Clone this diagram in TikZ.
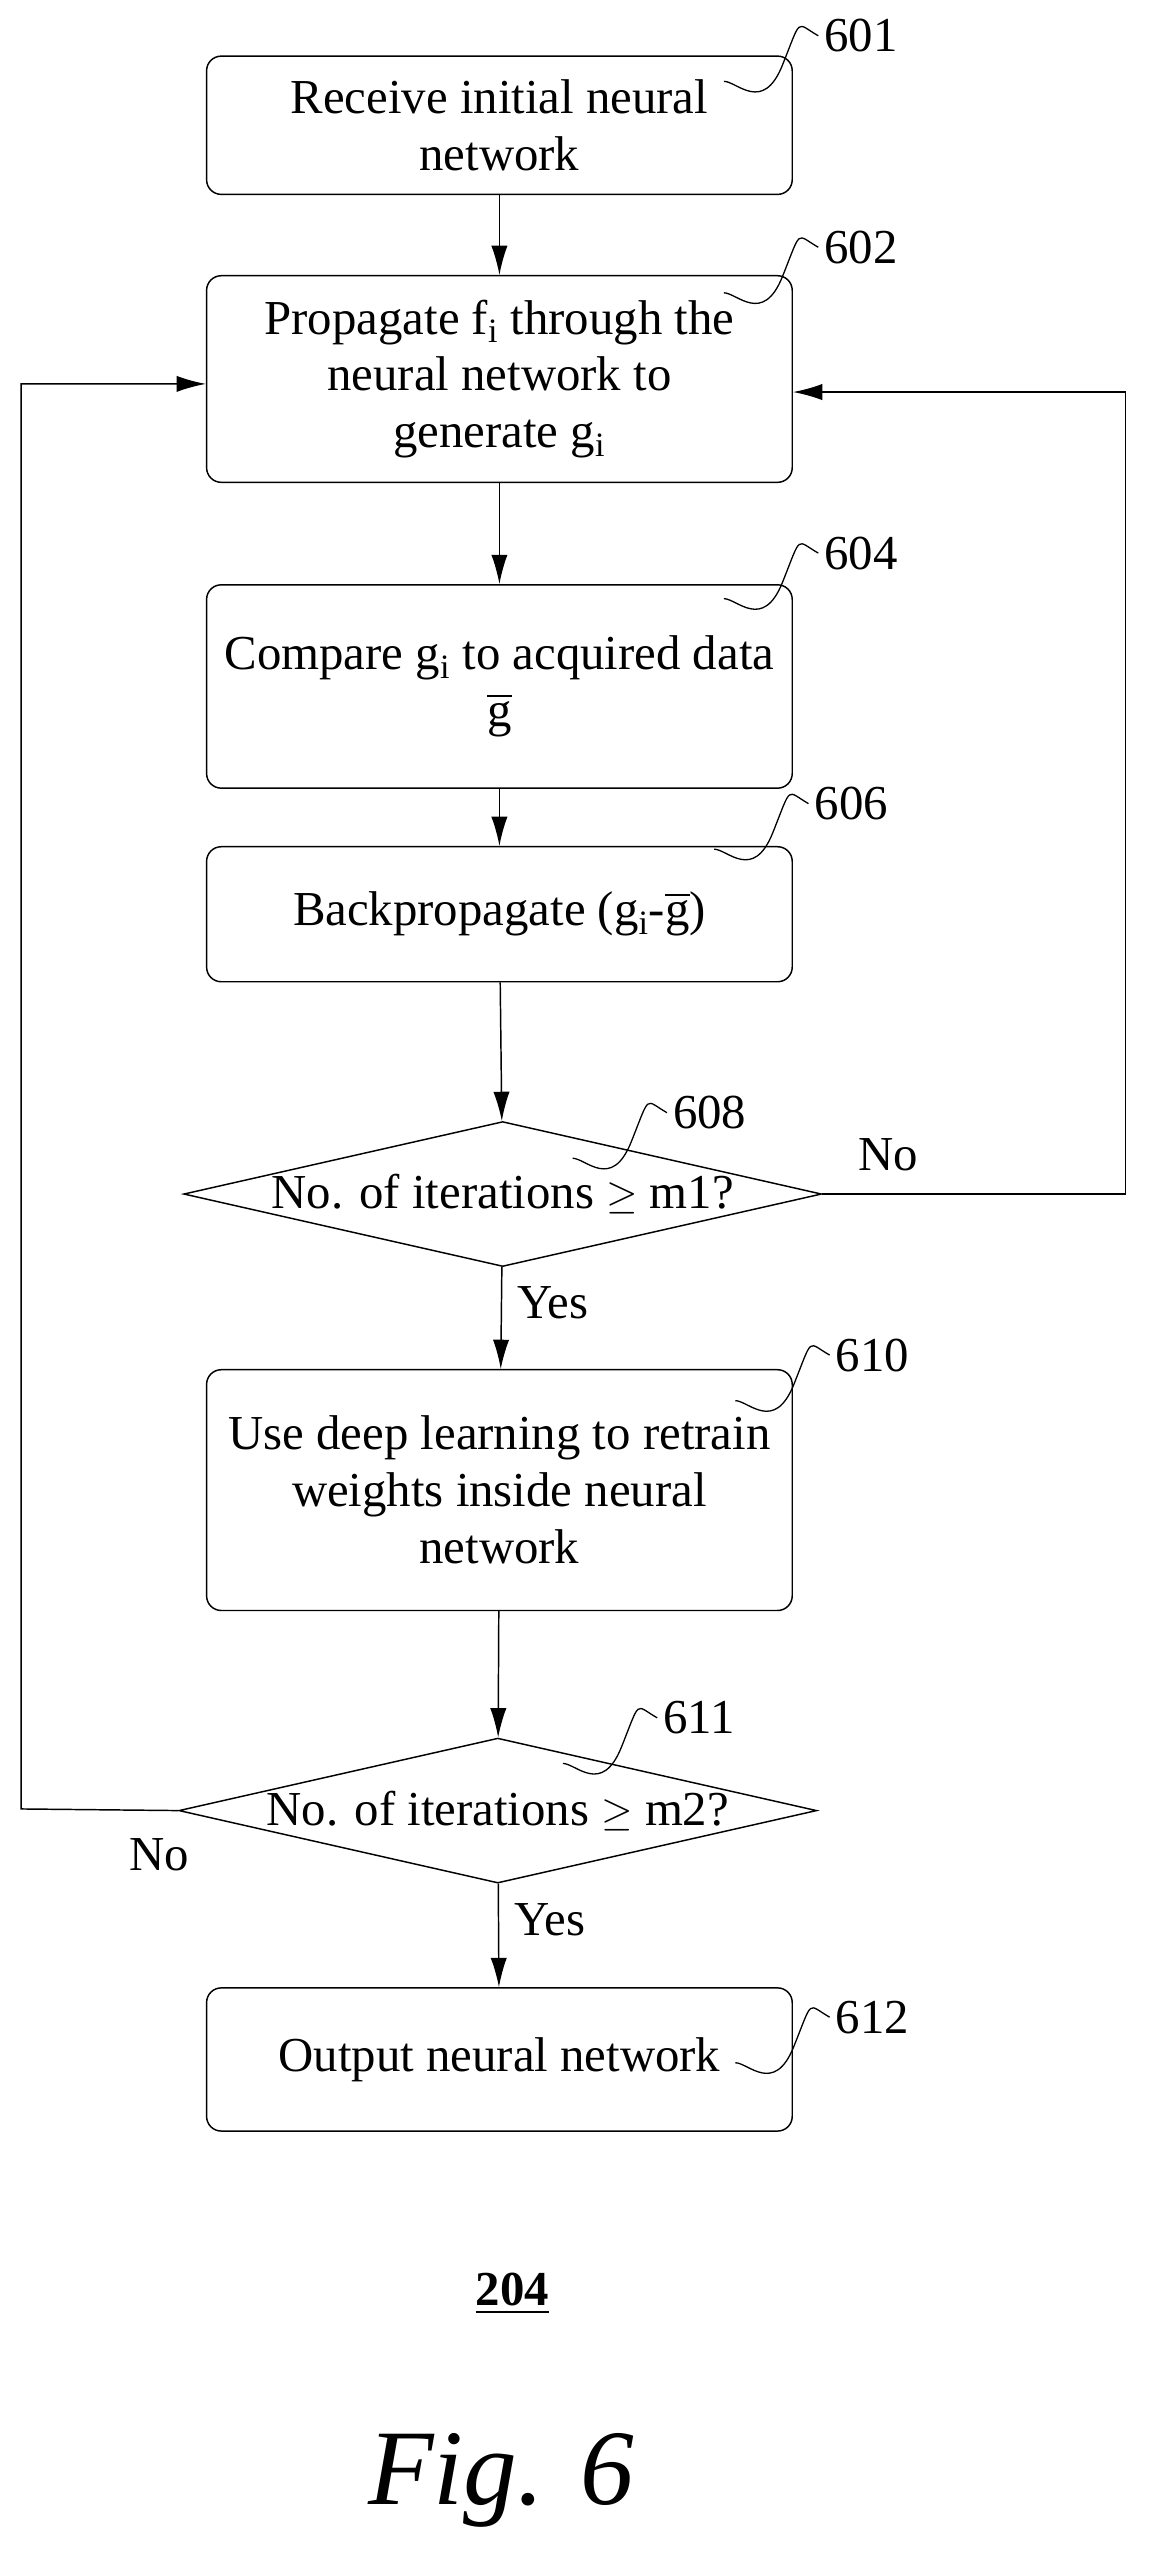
\documentclass[tikz,border=0pt]{standalone}
\usepackage{fontspec}
\usepackage{amsmath}
\setmainfont{Liberation Serif}
\usetikzlibrary{arrows.meta,shapes.geometric}

\tikzset{
	stage/.style={rectangle,draw,rounded corners=9pt,minimum width=360pt,align=center,font=\fontsize{30}{35}\selectfont},
	test/.style={diamond,draw,aspect=4.4,inner sep=0pt,font=\fontsize{30}{35}\selectfont},
	flow/.style={-{Latex[length=18pt,width=10pt]}},
	tag/.style={font=\fontsize{30}{35}\selectfont},
	squig/.style={line width=0.8pt}
}

\begin{document}
\begin{tikzpicture}[x=1pt,y=-1pt,line width=0.9pt]
		\useasboundingbox (0,0) rectangle (710,1578);
		\path (307,77) node(recv) [stage,minimum height=85pt] {Receive initial neural\\network};
		\path (307,233) node(prop) [stage,minimum height=127pt] {Propagate f\textsubscript{i} through the\\neural network to\\generate g\textsubscript{i}};
		\path (307,422) node(comp) [stage,minimum height=125pt] {Compare g\textsubscript{i} to acquired data\\$\overline{\text{g}}$};
		\path (307,562) node(back) [stage,minimum height=83pt] {Backpropagate (g\textsubscript{i}-$\overline{\text{g}}$)};
		\path (309,734) node(iter1) [test,minimum width=372pt,minimum height=84pt] {No. of iterations $\geq$ m1?};
		\path (307,916) node(deep) [stage,minimum height=148pt] {Use deep learning to retrain\\weights inside neural\\network};
		\path (306,1113) node(iter2) [test,minimum width=388pt,minimum height=83pt] {No. of iterations $\geq$ m2?};
		\path (307,1266) node(out) [stage,minimum height=88pt] {Output neural network};
		\path (692,734) coordinate (rloop_b);
		\path (692,241) coordinate (rloop_t);
		\path (13,1112) coordinate (lloop_b);
		\path (13,236) coordinate (lloop_t);

		\draw[flow] (recv) -- (prop);
		\draw[flow] (prop) -- (comp);
		\draw[flow] (comp) -- (back);
		\draw[flow] (back) -- (iter1);
		\draw[flow] (iter1) -- node[tag,right=6pt,pos=0.35] {Yes} (deep);
		\draw[flow] (deep) -- (iter2);
		\draw[flow] (iter2) -- node[tag,right=6pt,pos=0.35] {Yes} (out);
		\draw[flow] (iter1.east) -- (rloop_b) -- (rloop_t) -- (prop.east |- rloop_t);
		\draw[flow] (iter2.west) -- (lloop_b) -- (lloop_t) -- (prop.west |- lloop_t);
		\path (546,710) node(no1) [tag] {No};
		\path (98,1140) node(no2) [tag] {No};

		% reference numbers
		\path (503,22) node(n601) [tag,right] {601};
		\path (503,152) node(n602) [tag,right] {602};
		\path (503,340) node(n604) [tag,right] {604};
		\path (497,494) node(n606) [tag,right] {606};
		\path (410,684) node(n608) [tag,right] {608};
		\path (510,833) node(n610) [tag,right] {610};
		\path (404,1056) node(n611) [tag,right] {611};
		\path (510,1240) node(n612) [tag,right] {612};
		\draw[squig] (n601.west) .. controls +(-14,-8) and +(12,-30) .. +(-22,18) .. controls +(-12,30) and +(8,0) .. +(-58,28);
		\draw[squig] (n602.west) .. controls +(-14,-8) and +(12,-30) .. +(-22,18) .. controls +(-12,30) and +(8,0) .. +(-58,28);
		\draw[squig] (n604.west) .. controls +(-14,-8) and +(12,-30) .. +(-22,18) .. controls +(-12,30) and +(8,0) .. +(-58,28);
		\draw[squig] (n606.west) .. controls +(-14,-8) and +(12,-30) .. +(-22,18) .. controls +(-12,30) and +(8,0) .. +(-58,28);
		\draw[squig] (n608.west) .. controls +(-14,-8) and +(12,-30) .. +(-22,18) .. controls +(-12,30) and +(8,0) .. +(-58,28);
		\draw[squig] (n610.west) .. controls +(-14,-8) and +(12,-30) .. +(-22,18) .. controls +(-12,30) and +(8,0) .. +(-58,28);
		\draw[squig] (n611.west) .. controls +(-14,-8) and +(12,-30) .. +(-22,18) .. controls +(-12,30) and +(8,0) .. +(-58,28);
		\draw[squig] (n612.west) .. controls +(-14,-8) and +(12,-30) .. +(-22,18) .. controls +(-12,30) and +(8,0) .. +(-58,28);

		\path (315,1410) node(sheet) {\fontsize{30}{35}\selectfont\textbf{\underline{204}}};
		\path (308,1525) node(fig) {\fontsize{66}{76}\selectfont\textit{Fig. 6}};
	\end{tikzpicture}
\end{document}
